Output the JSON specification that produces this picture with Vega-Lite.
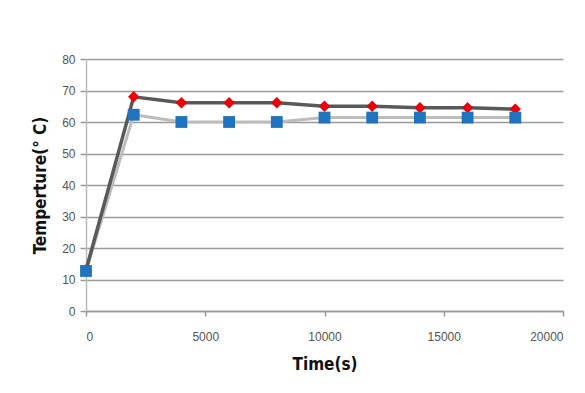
{
  "$schema": "https://vega.github.io/schema/vega-lite/v6.json",
  "autosize": {"type": "none"},
  "width": 477,
  "height": 252,
  "padding": {"left": 86, "top": 59, "right": 22, "bottom": 82},
  "background": "white",
  "config": {"view": {"stroke": null}},
  "data": {"values": [
    {"t": 0, "T": 13, "s": "A"},
    {"t": 2000, "T": 68, "s": "A"},
    {"t": 4000, "T": 66.1, "s": "A"},
    {"t": 6000, "T": 66.1, "s": "A"},
    {"t": 8000, "T": 66.1, "s": "A"},
    {"t": 10000, "T": 65, "s": "A"},
    {"t": 12000, "T": 65, "s": "A"},
    {"t": 14000, "T": 64.5, "s": "A"},
    {"t": 16000, "T": 64.5, "s": "A"},
    {"t": 18000, "T": 64.1, "s": "A"},
    {"t": 0, "T": 12.7, "s": "B"},
    {"t": 2000, "T": 62.3, "s": "B"},
    {"t": 4000, "T": 60, "s": "B"},
    {"t": 6000, "T": 60, "s": "B"},
    {"t": 8000, "T": 60, "s": "B"},
    {"t": 10000, "T": 61.4, "s": "B"},
    {"t": 12000, "T": 61.4, "s": "B"},
    {"t": 14000, "T": 61.4, "s": "B"},
    {"t": 16000, "T": 61.4, "s": "B"},
    {"t": 18000, "T": 61.4, "s": "B"}
  ]},
  "encoding": {
    "x": {"field": "t", "type": "quantitative",
      "scale": {"domain": [0, 20000], "nice": false},
      "axis": {"values": [0, 5000, 10000, 15000, 20000], "format": "d", "grid": false,
        "title": "Time(s)", "titleFont": "DejaVu Sans Condensed", "titleFontWeight": "bold", "titleFontSize": 17, "titleColor": "#111", "titlePadding": 14,
        "labelFont": "Liberation Sans", "labelFontSize": 12, "labelColor": "#555", "labelPadding": 15,
        "domainColor": "#999", "domainWidth": 1.5, "tickColor": "#999", "tickSize": 5, "tickWidth": 1.5}},
    "y": {"field": "T", "type": "quantitative",
      "scale": {"domain": [0, 80], "nice": false},
      "axis": {"values": [0, 10, 20, 30, 40, 50, 60, 70, 80], "grid": true, "gridColor": "#9a9a9a", "gridWidth": 1.5,
        "title": "Temperture(° C)", "titleFont": "DejaVu Sans Condensed", "titleFontWeight": "bold", "titleFontSize": 17, "titleColor": "#111", "titlePadding": 12,
        "labelFont": "Liberation Sans", "labelFontSize": 12, "labelColor": "#555", "labelPadding": 5,
        "domainColor": "#bbb", "domainWidth": 1.5, "tickColor": "#999", "tickSize": 6, "tickWidth": 1.5}}
  },
  "layer": [
    {"transform": [{"filter": "datum.s == 'B'"}], "mark": {"type": "line", "color": "#bdbdbd", "strokeWidth": 3}},
    {"transform": [{"filter": "datum.s == 'A'"}], "mark": {"type": "line", "color": "#595959", "strokeWidth": 3.5}},
    {"transform": [{"filter": "datum.s == 'A'"}], "mark": {"type": "point", "shape": "diamond", "filled": true, "color": "#e8000b", "size": 130, "opacity": 1}},
    {"transform": [{"filter": "datum.s == 'B'"}], "mark": {"type": "point", "shape": "square", "filled": true, "color": "#1f74bd", "size": 140, "opacity": 1}}
  ]
}
